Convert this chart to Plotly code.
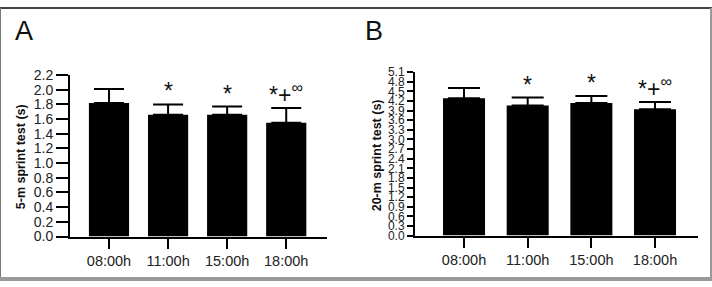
import plotly.graph_objects as go

# ---- data ----
times = ["08:00h", "11:00h", "15:00h", "18:00h"]
sprint5_mean = [1.82, 1.66, 1.66, 1.55]
sprint5_sd = [0.19, 0.14, 0.11, 0.20]
sprint20_mean = [4.29, 4.06, 4.14, 3.94]
sprint20_sd = [0.32, 0.25, 0.22, 0.23]
sig_labels = ["", "*", "*", "*+<sup>∞</sup>"]
y5_ticks = [round(0.2 * i, 1) for i in range(12)]
y20_ticks = [round(0.3 * i, 1) for i in range(18)]

W, H = 712, 287
FONT = "Arial, Liberation Sans, sans-serif"
xpos = list(range(len(times)))

fig = go.Figure()

def add_panel(means, sds, xref, yref, width, capw):
    fig.add_trace(go.Bar(
        x=xpos, y=means, width=width,
        marker=dict(color="black", line=dict(width=0)),
        error_y=dict(type="data", array=sds, arrayminus=[0] * len(sds),
                     symmetric=False, color="black", thickness=2, width=capw),
        xaxis=xref, yaxis=yref, showlegend=False,
    ))
    for i, (m, s, lab) in enumerate(zip(means, sds, sig_labels)):
        if not lab:
            continue
        fig.add_annotation(
            x=i, y=m + s, xref=xref, yref=yref, text=lab, showarrow=False,
            yanchor="bottom", yshift=-2, font=dict(family=FONT, size=23, color="#111"),
        )

add_panel(sprint5_mean, sprint5_sd, "x", "y", 0.68, 15)
add_panel(sprint20_mean, sprint20_sd, "x2", "y2", 0.66, 16)

axis_common = dict(showline=True, linecolor="black", linewidth=2, ticks="outside",
                   tickcolor="black", tickwidth=2, showgrid=False, zeroline=False,
                   tickfont=dict(family=FONT, size=14.5, color="#222"))

fig.update_layout(
    width=W, height=H, margin=dict(l=0, r=0, t=0, b=0),
    paper_bgcolor="white", plot_bgcolor="white",
    xaxis=dict(domain=[70 / W, 327 / W], range=[-0.66, 3.69], tickvals=xpos,
               ticktext=times, ticklen=10, anchor="y", **axis_common),
    yaxis=dict(domain=[(H - 242) / H, (H - 71) / H], range=[0, 2.2],
               tickvals=y5_ticks, ticktext=[f"{v:.1f}" for v in y5_ticks],
               ticklen=12, anchor="x",
               **{**axis_common, "tickfont": dict(family=FONT, size=14, color="#222")}),
    xaxis2=dict(domain=[415 / W, 698 / W], range=[-0.77, 3.675], tickvals=xpos,
                ticktext=times, ticklen=10, anchor="y2", **axis_common),
    yaxis2=dict(domain=[(H - 241) / H, (H - 68) / H], range=[0, 5.1],
                tickvals=y20_ticks, ticktext=[f"{v:.1f}" for v in y20_ticks],
                ticklen=6, anchor="x2",
                **{**axis_common, "tickfont": dict(family=FONT, size=12, color="#222")}),
)

# axis titles and panel letters
fig.add_annotation(x=21 / W, y=(H - 158) / H, xref="paper", yref="paper",
                   xanchor="center", yanchor="middle",
                   text="<b>5-m sprint test (s)</b>", textangle=-90, showarrow=False,
                   font=dict(family=FONT, size=12.5, color="#111"))
fig.add_annotation(x=377 / W, y=(H - 156) / H, xref="paper", yref="paper",
                   xanchor="center", yanchor="middle",
                   text="<b>20-m sprint test (s)</b>", textangle=-90, showarrow=False,
                   font=dict(family=FONT, size=12.5, color="#111"))
fig.add_annotation(x=13 / W, y=(H - 24) / H, xref="paper", yref="paper", text="A",
                   showarrow=False, xanchor="left", yanchor="middle",
                   font=dict(family=FONT, size=27, color="#111"))
fig.add_annotation(x=363 / W, y=(H - 24) / H, xref="paper", yref="paper", text="B",
                   showarrow=False, xanchor="left", yanchor="middle",
                   font=dict(family=FONT, size=27, color="#111"))

# image frame
fig.add_shape(type="line", xref="paper", yref="paper", x0=0, x1=1, y0=1, y1=1,
              line=dict(color="#444", width=2))
fig.add_shape(type="line", xref="paper", yref="paper", x0=0, x1=0, y0=0, y1=1,
              line=dict(color="#777", width=2))
fig.add_shape(type="line", xref="paper", yref="paper", x0=1, x1=1, y0=0, y1=1,
              line=dict(color="#999", width=4))
fig.add_shape(type="line", xref="paper", yref="paper", x0=0, x1=1, y0=0, y1=0,
              line=dict(color="#999", width=4))

fig.write_html("out.html")
